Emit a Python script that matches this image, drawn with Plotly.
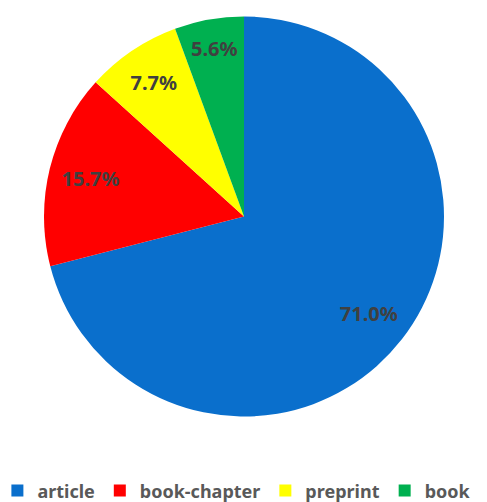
import plotly.graph_objects as go

categories = ["article", "book-chapter", "preprint", "book"]
shares = [71.0, 15.7, 7.7, 5.6]
colors = ["#0A6FCC", "#FF0000", "#FFFF00", "#00B050"]

domain = dict(x=[36/487, 436/487], y=[1-409/502, 1-8/502])

fig = go.Figure()
# coloured pie (legend)
fig.add_trace(go.Pie(
    labels=categories,
    values=shares,
    sort=False,
    direction="clockwise",
    rotation=0,
    marker=dict(colors=colors, line=dict(width=0)),
    textinfo="none",
    domain=domain,
    hoverinfo="skip",
))
# transparent ring that carries the percentage labels further out
fig.add_trace(go.Pie(
    labels=categories,
    values=shares,
    sort=False,
    direction="clockwise",
    rotation=0,
    hole=0.58,
    marker=dict(colors=["rgba(0,0,0,0)"] * len(categories), line=dict(width=0)),
    texttemplate="%{percent:.1%}",
    textposition="inside",
    insidetextorientation="horizontal",
    textfont=dict(family="Noto Sans", size=20, color="#404040", weight="bold"),
    domain=domain,
    showlegend=False,
    hoverinfo="skip",
))

fig.update_layout(
    width=487, height=502,
    margin=dict(l=0, r=0, t=0, b=0, autoexpand=False),
    paper_bgcolor="white",
    showlegend=True,
    legend=dict(
        orientation="h",
        x=0.47, xanchor="center",
        y=0.075, yanchor="top",
        font=dict(family="Noto Sans", size=18, color="#595959", weight="bold"),
        itemclick=False,
    ),
)

fig.write_html("out.html")
